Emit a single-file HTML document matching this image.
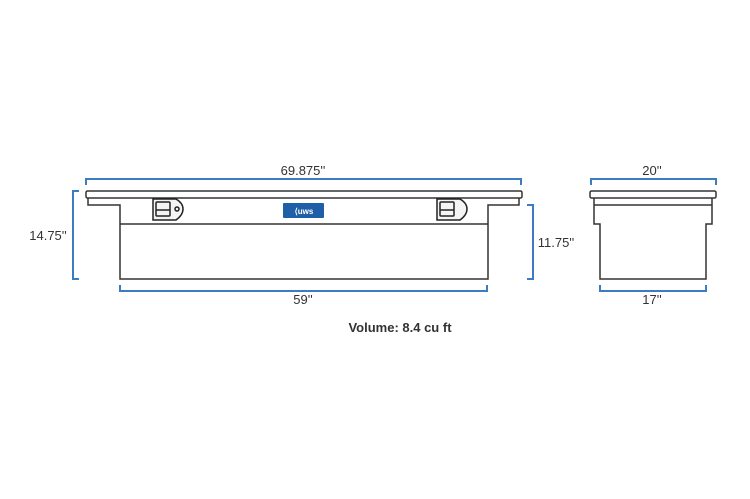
<!DOCTYPE html>
<html><head><style>
html,body{margin:0;padding:0;background:#fff;}
svg{display:block;}
text{font-family:"Liberation Sans",sans-serif;fill:#333;}
</style></head><body>
<svg width="750" height="499" viewBox="0 0 750 499" xmlns="http://www.w3.org/2000/svg">
<g fill="none" stroke="#3d7cc0" stroke-width="2">
<path d="M86 185 V179 H521 V185"/>
<path d="M79 191 H73 V279 H79"/>
<path d="M527 205 H533 V279 H527"/>
<path d="M120 285 V291 H487 V285"/>
<path d="M591 185 V179 H716 V185"/>
<path d="M600 285 V291 H706 V285"/>
</g>
<g fill="none" stroke="#333" stroke-width="1.5">
<rect x="86" y="191" width="436" height="7" rx="1.5"/>
<path d="M88 198 V205 H120 V279 H488 V205 H519 V198"/>
<path d="M120 224 H488"/>
<rect x="590" y="191" width="126" height="7" rx="1.5"/>
<path d="M594 198 V224 H600 V279 H706 V224 H712 V198"/>
<path d="M594 205 H712"/>
</g>
<g stroke="#222" stroke-width="1.5" fill="#f4f4f4">
<path d="M153 199 H176 Q183 203 183 209 Q183 215 176 220 H153 Z"/>
<rect x="156" y="202" width="14" height="14" rx="1"/>
<path d="M156 210 H170"/>
<circle cx="177" cy="209" r="2" fill="none"/>
<path d="M437 199 H460 Q467 203 467 209 Q467 215 460 220 H437 Z"/>
<rect x="440" y="202" width="14" height="14" rx="1"/>
<path d="M440 210 H454"/>
</g>
<rect x="283" y="203" width="41" height="15" rx="1" fill="#1f5fa8"/>
<text x="304" y="214" font-size="8" font-weight="bold" text-anchor="middle" style="fill:#fff">⟨uws</text>
<g font-size="13" text-anchor="middle">
<text x="303" y="175">69.875''</text>
<text x="48" y="240">14.75''</text>
<text x="556" y="247">11.75''</text>
<text x="303" y="304">59''</text>
<text x="652" y="175">20''</text>
<text x="652" y="304">17''</text>
<text x="400" y="332" font-weight="bold">Volume: 8.4 cu ft</text>
</g>
</svg>
</body></html>
